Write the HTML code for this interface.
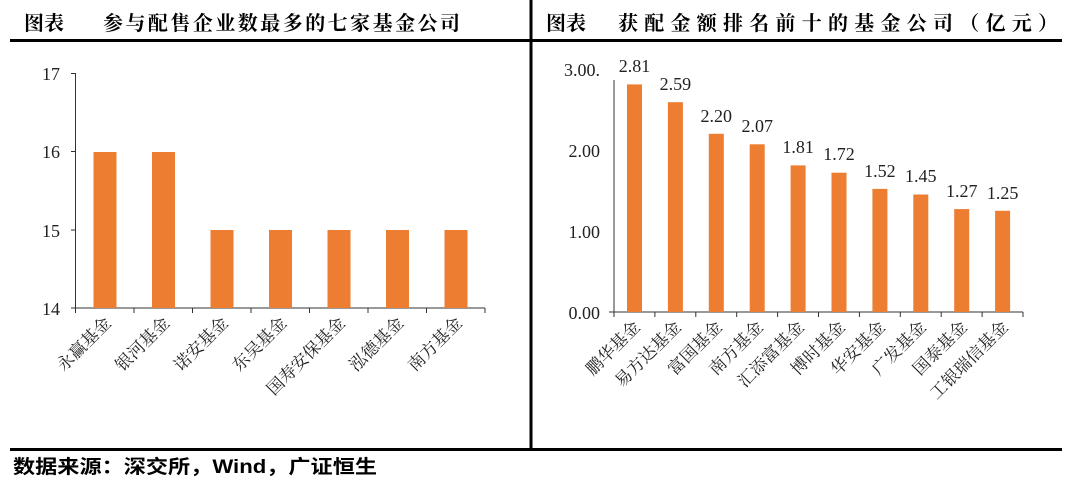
<!DOCTYPE html>
<html><head><meta charset="utf-8"><style>
html,body{margin:0;padding:0;background:#fff;}
svg{display:block;}
</style></head><body>
<svg width="1080" height="484" viewBox="0 0 1080 484" xmlns="http://www.w3.org/2000/svg">
<rect width="1080" height="484" fill="#fff"/>
<g font-family="'Liberation Serif','Noto Serif CJK SC',serif" font-weight="bold" font-size="20" fill="#000">
<text x="24" y="30">图表</text>
<text x="103" y="30" textLength="357" lengthAdjust="spacing">参与配售企业数最多的七家基金公司</text>
<text x="546" y="30">图表</text>
<text x="618" y="30" textLength="440" lengthAdjust="spacing">获配金额排名前十的基金公司（亿元）</text>
</g>
<text x="13" y="473" font-family="'Liberation Sans','Noto Sans CJK SC',sans-serif" font-weight="bold" font-size="19" textLength="364" lengthAdjust="spacingAndGlyphs" fill="#000">数据来源：深交所，Wind，广证恒生</text>
<rect x="10" y="39" width="1052" height="3" fill="#000"/>
<rect x="10" y="448" width="1052" height="3" fill="#000"/>
<rect x="529.5" y="0" width="3" height="451" fill="#000"/>

<!-- Left chart -->
<g font-family="'Liberation Serif','Noto Serif CJK SC',serif" font-size="18" fill="#222">
<text x="60" y="80" text-anchor="end">17</text>
<text x="60" y="158" text-anchor="end">16</text>
<text x="60" y="237" text-anchor="end">15</text>
<text x="60" y="315" text-anchor="end">14</text>
</g>
<g stroke="#333" stroke-width="1">
<line x1="75.5" y1="73" x2="75.5" y2="308"/>
<line x1="71" y1="73.5" x2="75.5" y2="73.5"/>
<line x1="71" y1="151.5" x2="75.5" y2="151.5"/>
<line x1="71" y1="230" x2="75.5" y2="230"/>
<line x1="71" y1="308" x2="485" y2="308"/>
<path d="M75.5 308v5M134 308v5M192.5 308v5M251 308v5M309.5 308v5M368 308v5M426.5 308v5M485 308v5"/>
</g>
<g fill="#ED7D31">
<rect x="93.5" y="152" width="23" height="156"/>
<rect x="152" y="152" width="23" height="156"/>
<rect x="210.5" y="230" width="23" height="78"/>
<rect x="269" y="230" width="23" height="78"/>
<rect x="327.5" y="230" width="23" height="78"/>
<rect x="386" y="230" width="23" height="78"/>
<rect x="444.5" y="230" width="23" height="78"/>
</g>
<g font-family="'Liberation Serif','Noto Serif CJK SC',serif" font-size="17" fill="#222" text-anchor="end">
<text transform="translate(112,324) rotate(-45)">永赢基金</text>
<text transform="translate(170.5,324) rotate(-45)">银河基金</text>
<text transform="translate(229,324) rotate(-45)">诺安基金</text>
<text transform="translate(287.5,324) rotate(-45)">东吴基金</text>
<text transform="translate(346,324) rotate(-45)">国寿安保基金</text>
<text transform="translate(404.5,324) rotate(-45)">泓德基金</text>
<text transform="translate(463,324) rotate(-45)">南方基金</text>
</g>

<!-- Right chart -->
<g font-family="'Liberation Serif',serif" font-size="18" fill="#222" text-anchor="end">
<text x="600" y="76">3.00.</text>
<text x="600" y="157">2.00</text>
<text x="600" y="238">1.00</text>
<text x="600" y="319">0.00</text>
</g>
<g stroke="#333" stroke-width="1">
<line x1="614" y1="80" x2="614" y2="312"/>
<line x1="609" y1="312" x2="1023" y2="312"/>
<path d="M614 312v5M654.9 312v5M695.8 312v5M736.7 312v5M777.6 312v5M818.5 312v5M859.4 312v5M900.3 312v5M941.2 312v5M982.1 312v5M1023 312v5"/>
</g>
<g fill="#ED7D31">
<rect x="627" y="84.4" width="15" height="227.6"/>
<rect x="667.9" y="102.2" width="15" height="209.8"/>
<rect x="708.8" y="133.8" width="15" height="178.2"/>
<rect x="749.7" y="144.3" width="15" height="167.7"/>
<rect x="790.6" y="165.4" width="15" height="146.6"/>
<rect x="831.5" y="172.7" width="15" height="139.3"/>
<rect x="872.4" y="188.9" width="15" height="123.1"/>
<rect x="913.3" y="194.5" width="15" height="117.5"/>
<rect x="954.2" y="209.1" width="15" height="102.9"/>
<rect x="995.1" y="210.8" width="15" height="101.2"/>
</g>
<g font-family="'Liberation Serif',serif" font-size="18" fill="#222" text-anchor="middle">
<text x="634.5" y="72">2.81</text>
<text x="675.4" y="90">2.59</text>
<text x="716.3" y="122">2.20</text>
<text x="757.2" y="132">2.07</text>
<text x="798.1" y="153">1.81</text>
<text x="839" y="160">1.72</text>
<text x="879.9" y="177">1.52</text>
<text x="920.8" y="182">1.45</text>
<text x="961.7" y="197">1.27</text>
<text x="1002.6" y="199">1.25</text>
</g>
<g font-family="'Liberation Serif','Noto Serif CJK SC',serif" font-size="17" fill="#222" text-anchor="end">
<text transform="translate(641,328) rotate(-45)">鹏华基金</text>
<text transform="translate(682,328) rotate(-45)">易方达基金</text>
<text transform="translate(723,328) rotate(-45)">富国基金</text>
<text transform="translate(764,328) rotate(-45)">南方基金</text>
<text transform="translate(805,328) rotate(-45)">汇添富基金</text>
<text transform="translate(846,328) rotate(-45)">博时基金</text>
<text transform="translate(886,328) rotate(-45)">华安基金</text>
<text transform="translate(927,328) rotate(-45)">广发基金</text>
<text transform="translate(968,328) rotate(-45)">国泰基金</text>
<text transform="translate(1009,328) rotate(-45)">工银瑞信基金</text>
</g>
</svg>
</body></html>
